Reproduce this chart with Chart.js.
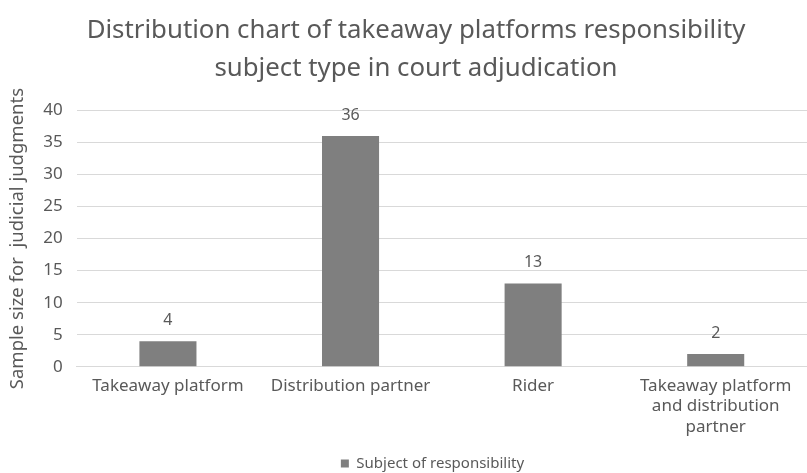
<!DOCTYPE html>
<html><head><meta charset="utf-8">
<script src="https://cdn.jsdelivr.net/npm/chart.js@4/dist/chart.umd.min.js"></script>
<style>html,body{margin:0;padding:0;background:#fff}#wrap{width:807px;height:473px}</style>
</head><body><div id="wrap"><canvas id="c"></canvas></div>
<script>
const categories = [["Takeaway platform"],["Distribution partner"],["Rider"],["Takeaway platform","and distribution","partner"]];
const seriesName = "Subject of responsibility";
const values = [4, 36, 13, 2];
const yTicks = [0,5,10,15,20,25,30,35,40];
const titleLines = ["Distribution chart of takeaway platforms responsibility","subject type in court adjudication"];
const yTitle = "Sample size for  judicial judgments";

const FONT = "'Noto Sans', sans-serif";
const TXT = '#595959';

const labelPlugin = {
  id: 'barLabels',
  afterDatasetsDraw(chart) {
    const ctx = chart.ctx;
    const meta = chart.getDatasetMeta(0);
    ctx.save();
    ctx.font = "16px " + FONT;
    ctx.fillStyle = TXT;
    ctx.textAlign = 'center';
    ctx.textBaseline = 'middle';
    meta.data.forEach((bar, i) => {
      ctx.fillText(String(chart.data.datasets[0].data[i]), bar.x, bar.y - 21);
    });
    ctx.restore();
  }
};

// nudge title and legend horizontally to match the reference's centring
const nudgePlugin = {
  id: 'nudge',
  afterLayout(chart) {
    if (chart.titleBlock) { chart.titleBlock.left += 2.5; chart.titleBlock.right += 2.5; }
    if (chart.legend) { chart.legend.left += 19; chart.legend.right += 19; }
  }
};

new Chart(document.getElementById('c'), {
  type: 'bar',
  data: {
    labels: categories,
    datasets: [{
      label: seriesName,
      data: values,
      backgroundColor: '#7f7f7f',
      borderWidth: 0,
      barPercentage: 0.625,
      categoryPercentage: 0.5
    }]
  },
  options: {
    responsive: true,
    maintainAspectRatio: false,
    animation: false,
    layout: { padding: { left: 7, right: -13, top: 8, bottom: -8 } },
    plugins: {
      title: {
        display: true,
        text: titleLines,
        color: TXT,
        font: { family: FONT, size: 25.8, weight: 'normal', lineHeight: 1.46 },
        padding: { top: 4, bottom: 23 }
      },
      legend: {
        position: 'bottom',
        labels: {
          color: TXT,
          font: { family: FONT, size: 15 },
          boxWidth: 8, boxHeight: 8,
          padding: 0
        }
      },
      tooltip: { enabled: false }
    },
    scales: {
      x: {
        grid: { display: false },
        border: { color: '#d9d9d9', width: 1 },
        afterFit(axis) { axis.height += 18; },
        ticks: { color: TXT, font: { family: FONT, size: 17, lineHeight: 1.2 }, maxRotation: 0, autoSkip: false, padding: 1 }
      },
      y: {
        min: 0, max: 40,
        afterBuildTicks(axis) { axis.ticks = yTicks.map(v => ({ value: v })); },
        grid: { color: '#d9d9d9', drawTicks: false },
        border: { display: false },
        ticks: { color: TXT, font: { family: FONT, size: 17 }, padding: 14 },
        title: { display: true, text: yTitle, color: TXT, font: { family: FONT, size: 18.5 }, padding: { top: 0, bottom: 0 } }
      }
    }
  },
  plugins: [labelPlugin, nudgePlugin]
});
</script></body></html>
